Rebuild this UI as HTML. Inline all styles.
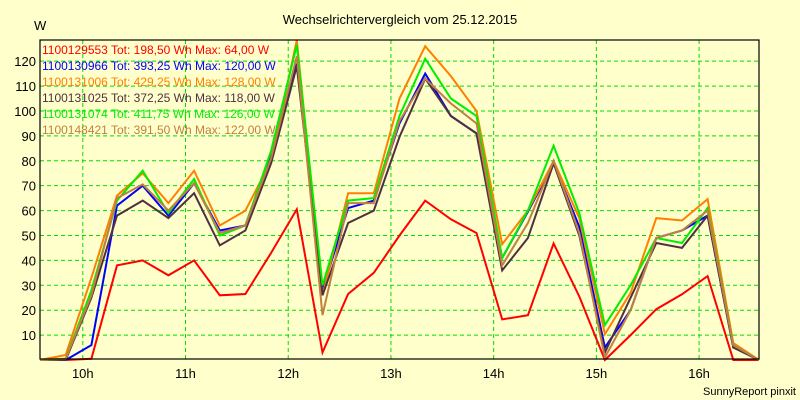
<!DOCTYPE html>
<html><head><meta charset="utf-8"><style>
body{margin:0;background:#ffffcc;}
svg{display:block;font-family:"Liberation Sans",Arial,sans-serif;}
</style></head><body>
<svg id="chart" width="800" height="400" viewBox="0 0 800 400">
<rect x="0" y="0" width="800" height="400" fill="#ffffcc"/>
<text x="400" y="24" text-anchor="middle" font-size="13" fill="#000">Wechselrichtervergleich vom 25.12.2015</text>
<text x="34" y="30" font-size="13" fill="#000">W</text>
<text x="796" y="395" text-anchor="end" font-size="11" fill="#000">SunnyReport pinxit</text>
<g id="grid"></g><g id="axes"></g><g id="series"></g><g id="legend"></g>
<rect x="40" y="40" width="719" height="319" fill="none" stroke="#000" stroke-width="1.2"/>
</svg>
<script>
// minutes after 9:35, 15-minute samples
const times = [0,15,30,45,60,75,90,105,120,135,150,165,180,195,210,225,240,255,270,285,300,315,330,345,360,375,390,405,420];
const yTicks = [10,20,30,40,50,60,70,80,90,100,110,120];
const xTickMinutes = [25,85,145,205,265,325,385];
const xTickLabels = ["10h","11h","12h","13h","14h","15h","16h"];
const seriesNames = ["1100129553","1100130966","1100131006","1100131025","1100131074","1100148421"];
const seriesLegend = ["1100129553 Tot: 198,50 Wh Max: 64,00 W","1100130966 Tot: 393,25 Wh Max: 120,00 W","1100131006 Tot: 429,25 Wh Max: 128,00 W","1100131025 Tot: 372,25 Wh Max: 118,00 W","1100131074 Tot: 411,75 Wh Max: 126,00 W","1100148421 Tot: 391,50 Wh Max: 122,00 W"];
const seriesColors = ["#ff0000","#0000ff","#ff8000","#503040","#00ee00","#c08040"];
const red    = [0,0,0.5,38,40,34,40,26,26.5,43,60.5,3,26.5,35,50,64,56.5,51,16.3,18,46.8,25.5,0,10,20.4,26.4,33.7,0,0];
const blue   = [0,0,6,62,70,58,71,52,54,83,119,28,61,64,95,115,98,91,41,59.5,79,53.5,5,20,49,52,58,5,0];
const orange = [0,2,33,66,75,63,76,54,60,80,128.5,26,67,67,105,126,114,100,46.5,60,80,57,10.4,27,57,56,64.6,6.8,0];
const dark   = [0,0,25,58,64,57,67,46,52,79,118,26,55,60,89.6,113,98,91,36,49,79,50,3,25,47,45,58,5,0];
const green  = [0,0.5,28,64,76,59,72.7,50,54,84,126.5,30,64,65,98,121,105,98,41,60,86,59,14,30,49,47,61,6,0];
const brown  = [0,0.5,26,65,70.5,60,71,51,54,81,122,18,63,63,96,113,103,95,38,55,80,51,1,20,49,52,60,6,0];
const seriesData = [red,blue,orange,dark,green,brown];

const NS="http://www.w3.org/2000/svg";
const X0=40,X1=759,Y0=360,Y1=40,YMAX=128.5,TMAX=420;
function xScale(t){return X0+(X1-X0)*t/TMAX;}
function yScale(v){return Y0-(Y0-Y1)*v/YMAX;}
function mk(tag,attrs,parent){const e=document.createElementNS(NS,tag);for(const k in attrs)e.setAttribute(k,attrs[k]);parent.appendChild(e);return e;}
const grid=document.getElementById('grid'),axes=document.getElementById('axes'),ser=document.getElementById('series'),leg=document.getElementById('legend');
yTicks.forEach(v=>{
  const y=yScale(v);
  const l=mk('line',{x1:X0,x2:X1,y1:y,y2:y,stroke:'#00dd00','stroke-dasharray':'4,3','stroke-width':1},grid);
  
  
  const t=mk('text',{x:36,y:y+5,'text-anchor':'end','font-size':13,fill:'#000'},axes);
  t.textContent=v;
  
  
});
xTickMinutes.forEach((m,i)=>{
  const x=xScale(m);
  const l=mk('line',{x1:x,x2:x,y1:Y1,y2:Y0,stroke:'#00dd00','stroke-dasharray':'4,3','stroke-width':1},grid);
  
  
  const t=mk('text',{x:x,y:378,'text-anchor':'middle','font-size':13,fill:'#000'},axes);
  t.textContent=xTickLabels[i];
  
  
});
seriesData.forEach((d,s)=>{
  const pts=d.map((v,i)=>xScale(times[i]).toFixed(1)+','+yScale(v).toFixed(1)).join(' ');
  const p=mk('polyline',{points:pts,fill:'none',stroke:seriesColors[s],'stroke-width':2,'stroke-linejoin':'miter'},ser);
  
  
});
seriesLegend.forEach((txt,s)=>{
  const t=mk('text',{x:42,y:54+s*16,'font-size':12,fill:seriesColors[s]},leg);
  t.textContent=txt;
  
  
});
</script>
</body></html>
